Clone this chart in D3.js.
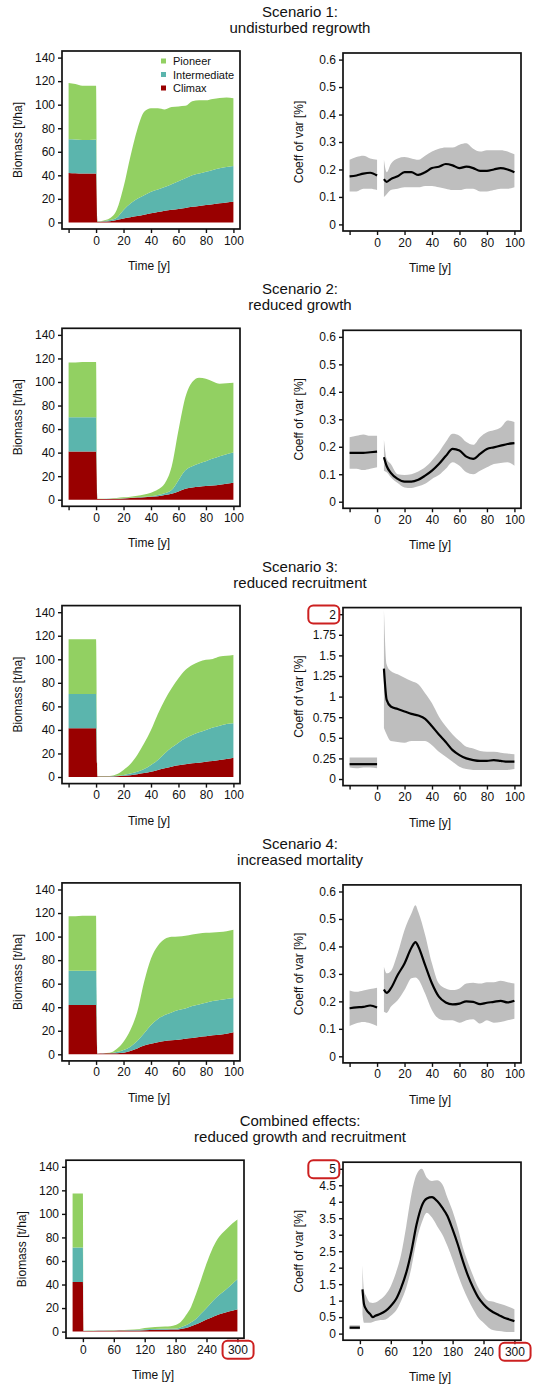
<!DOCTYPE html>
<html>
<head>
<meta charset="utf-8">
<script src="https://cdn.jsdelivr.net/npm/d3@7"></script>
<style>
  body { margin: 0; background: #fff; }
  text { font-family: "Liberation Sans", Arial, sans-serif; fill: #111; }
</style>
</head>
<body>
<div id="chart"></div>
<script>
// ---- data: biomass (t/ha) per successional group ----
const bioTime = [-20, -15, -10, -5, 0, 1, 5, 10, 15, 20, 25, 30, 35, 40, 45, 50, 55, 60, 65, 70, 75, 80, 85, 90, 95, 100];
const bioTime5 = [-20, -10, 0, 1, 20, 40, 60, 80, 100, 120, 140, 160, 180, 190, 200, 210, 220, 230, 240, 250, 260, 270, 280, 290, 300];

const climax1 = [42, 41.7, 41.5, 41.5, 41.5, 0.5, 0.7, 1, 2, 3.4, 4.4, 5.4, 6.5, 7.7, 8.8, 10, 10.7, 11.4, 12.3, 13.3, 14, 14.8, 15.5, 16.2, 17, 17.6];
const inter1 = [28.7, 28.8, 28.5, 28.5, 29, 0.3, 0.3, 1, 2, 7.1, 11.6, 14.6, 16.5, 18.3, 19.2, 20, 21.8, 23.6, 25.2, 26.7, 27.5, 28.2, 29, 29.8, 30, 30.4];
const pioneer1 = [47.8, 47, 46, 46, 45.5, 0.2, 0.5, 1.5, 6.5, 19.5, 40, 59, 71, 71, 69, 66, 65.5, 63.5, 61.5, 63, 62.2, 60.7, 60.3, 59.6, 59, 57.5];

const climax2 = [41, 41, 41, 41, 41, 0.5, 0.5, 0.6, 0.8, 1, 1.4, 1.8, 2.1, 2.5, 3, 4, 5, 7, 9.3, 10.4, 11, 11.6, 12.1, 12.7, 13.5, 14.4];
const inter2 = [29, 29, 29, 29, 29, 0.2, 0.2, 0.2, 0.2, 0.2, 0.2, 0.2, 0.4, 0.5, 1, 1.5, 3.2, 9.6, 15.7, 18.1, 19.8, 21.1, 22.9, 24.3, 25.2, 25.6];
const pioneer2 = [46.5, 46.5, 47, 47, 47, 0.1, 0.2, 0.3, 0.5, 0.8, 1, 1.4, 2, 3, 4.7, 8.3, 19.8, 42.4, 62, 71.5, 72.8, 70, 65.5, 61.5, 60.3, 59.3];

const climax3 = [41.4, 41.4, 41.4, 41.4, 41.4, 0.5, 0.5, 0.5, 0.7, 1, 1.5, 2.3, 3.3, 4.5, 6, 7.4, 8.8, 9.9, 10.8, 11.6, 12.2, 13, 13.6, 14.5, 15.3, 16.4];
const inter3 = [29.2, 29.2, 29.2, 29.2, 29.2, 0.1, 0.1, 0.2, 0.3, 0.7, 1.5, 2.2, 3.5, 5.7, 8.5, 12.6, 16.2, 19.3, 22.1, 24.1, 25.8, 27, 28.4, 29.1, 29.7, 29.2];
const pioneer3 = [46.4, 46.4, 46.4, 46.4, 46.4, 0.1, 0.2, 0.2, 1.3, 4.3, 8, 14.2, 21.8, 29.8, 39.1, 45.5, 50.4, 54.7, 58.1, 59.5, 60, 59.5, 58.3, 58.7, 58, 58.1];

const climax4 = [41.9, 41.9, 41.8, 41.8, 41.8, 0.5, 0.6, 0.8, 1, 1.4, 2.8, 5, 7.4, 9, 10.2, 11.3, 11.9, 12.4, 13.3, 13.8, 14.7, 15.3, 16.1, 16.7, 17.5, 18.7];
const inter4 = [29.1, 29.1, 29.2, 29.2, 29.2, 0.1, 0.2, 0.2, 1, 2.3, 3.7, 6.3, 10.4, 15.9, 19.8, 22.1, 23.7, 25.2, 25.7, 27.2, 27.7, 28.5, 29.1, 29.4, 29.5, 29.1];
const pioneer4 = [46.3, 46.3, 46.6, 46.6, 46.6, 0.1, 0.2, 0.4, 2.5, 7, 14.1, 24.9, 43.9, 56.5, 62.2, 64.5, 64.2, 62.5, 61.7, 60.8, 60.3, 59.4, 58.3, 57.7, 57.6, 58];

const climax5 = [42.2, 42.2, 42.2, 0.5, 0.6, 0.7, 0.8, 0.9, 1, 1.2, 1.5, 1.6, 1.7, 2.2, 3.1, 4.5, 6.2, 8.2, 10.2, 12, 13.9, 15.3, 16.7, 17.8, 18.7];
const inter5 = [29.2, 29.2, 29.2, 0.2, 0.2, 0.2, 0.2, 0.3, 0.3, 0.8, 0.7, 0.8, 0.9, 1.6, 2.3, 3.5, 4.8, 7.3, 9.8, 13, 15.6, 17.7, 19.9, 22.7, 25.8];
const pioneer5 = [45.9, 45.9, 45.9, 0.1, 0.1, 0.1, 0.1, 0.2, 0.4, 1.1, 1.8, 1.9, 3.1, 4.4, 8.5, 13, 21.3, 29.5, 37.8, 44, 48.1, 50.3, 51, 51.3, 50.7];

// ---- data: coefficient of variation (mean and band) ----
const cvTime = [-20, -15, -10, -5, 0, 5, 7, 10, 15, 20, 25, 30, 35, 40, 45, 50, 55, 60, 65, 70, 75, 80, 85, 90, 95, 100];
const cvTime4 = [-20, -15, -10, -5, 0, 5, 7, 10, 15, 20, 25, 28, 30, 35, 40, 45, 50, 55, 60, 65, 70, 75, 80, 85, 90, 95, 100];
const cvTime5 = [-20, -15, -10, -5, 0, 5, 8, 12, 20, 25, 30, 40, 50, 60, 70, 80, 90, 100, 110, 120, 130, 140, 150, 160, 170, 180, 190, 200, 210, 220, 230, 240, 250, 260, 270, 280, 290, 300];

const cvMean1 = [0.175, 0.178, 0.185, 0.188, 0.178, 0.165, 0.155, 0.165, 0.175, 0.19, 0.19, 0.18, 0.19, 0.205, 0.21, 0.22, 0.215, 0.205, 0.21, 0.205, 0.195, 0.195, 0.2, 0.205, 0.2, 0.19];
const cvHi1 = [0.235, 0.245, 0.25, 0.24, 0.235, 0.235, 0.19, 0.22, 0.24, 0.245, 0.24, 0.235, 0.25, 0.265, 0.275, 0.28, 0.28, 0.29, 0.295, 0.275, 0.265, 0.27, 0.27, 0.27, 0.265, 0.255];
const cvLo1 = [0.12, 0.12, 0.13, 0.13, 0.125, 0.1, 0.11, 0.125, 0.13, 0.135, 0.135, 0.135, 0.14, 0.14, 0.135, 0.13, 0.125, 0.125, 0.13, 0.13, 0.12, 0.12, 0.125, 0.13, 0.13, 0.135];

const cvMean2 = [0.178, 0.178, 0.178, 0.18, 0.182, 0.162, 0.13, 0.105, 0.083, 0.073, 0.073, 0.08, 0.095, 0.113, 0.137, 0.166, 0.192, 0.186, 0.164, 0.156, 0.174, 0.192, 0.198, 0.204, 0.21, 0.213];
const cvHi2 = [0.235, 0.24, 0.245, 0.24, 0.24, 0.226, 0.156, 0.137, 0.1, 0.097, 0.1, 0.11, 0.125, 0.15, 0.18, 0.217, 0.247, 0.24, 0.217, 0.207, 0.235, 0.253, 0.26, 0.27, 0.296, 0.29];
const cvLo2 = [0.12, 0.12, 0.115, 0.12, 0.125, 0.113, 0.107, 0.089, 0.068, 0.052, 0.05, 0.056, 0.065, 0.083, 0.097, 0.12, 0.144, 0.131, 0.107, 0.1, 0.113, 0.125, 0.137, 0.141, 0.144, 0.131];

const cvMean3 = [0.18, 0.18, 0.18, 0.18, 0.18, 1.34, 0.96, 0.88, 0.85, 0.82, 0.79, 0.77, 0.73, 0.64, 0.54, 0.45, 0.35, 0.29, 0.25, 0.23, 0.22, 0.22, 0.23, 0.22, 0.21, 0.21];
const cvHi3 = [0.26, 0.26, 0.26, 0.26, 0.26, 2.05, 1.39, 1.31, 1.27, 1.23, 1.19, 1.15, 1.04, 0.92, 0.76, 0.64, 0.54, 0.46, 0.39, 0.37, 0.34, 0.33, 0.33, 0.32, 0.31, 0.3];
const cvLo3 = [0.14, 0.13, 0.14, 0.14, 0.13, 0.62, 0.54, 0.46, 0.45, 0.44, 0.46, 0.46, 0.46, 0.41, 0.33, 0.27, 0.21, 0.15, 0.12, 0.11, 0.11, 0.11, 0.11, 0.11, 0.11, 0.12];

const cvMean4 = [0.175, 0.178, 0.18, 0.185, 0.178, 0.243, 0.231, 0.247, 0.296, 0.338, 0.395, 0.416, 0.4, 0.332, 0.265, 0.217, 0.196, 0.189, 0.192, 0.2, 0.198, 0.19, 0.195, 0.198, 0.202, 0.196, 0.202];
const cvHi4 = [0.24, 0.235, 0.24, 0.245, 0.25, 0.326, 0.302, 0.31, 0.375, 0.46, 0.52, 0.55, 0.526, 0.442, 0.338, 0.265, 0.247, 0.241, 0.247, 0.265, 0.268, 0.265, 0.27, 0.27, 0.275, 0.27, 0.265];
const cvLo4 = [0.11, 0.12, 0.125, 0.12, 0.11, 0.162, 0.158, 0.18, 0.204, 0.241, 0.284, 0.287, 0.28, 0.229, 0.168, 0.137, 0.131, 0.131, 0.122, 0.131, 0.135, 0.119, 0.131, 0.122, 0.125, 0.131, 0.137];

const cvMean5 = [0.18, 0.18, 0.18, 0.18, 0.18, 1.34, 0.89, 0.74, 0.59, 0.5, 0.54, 0.6, 0.69, 0.84, 1.04, 1.39, 1.85, 2.5, 3.31, 3.87, 4.1, 4.14, 4.02, 3.82, 3.57, 3.16, 2.71, 2.2, 1.75, 1.39, 1.09, 0.89, 0.74, 0.64, 0.56, 0.48, 0.43, 0.38];
const cvHi5 = [0.25, 0.25, 0.25, 0.25, 0.25, 2.07, 1.3, 1.15, 0.94, 0.93, 0.94, 1.04, 1.19, 1.44, 1.85, 2.4, 3.26, 4.22, 4.83, 5.0, 4.73, 4.63, 4.65, 4.53, 4.12, 3.72, 3.21, 2.61, 2.15, 1.75, 1.39, 1.14, 0.99, 0.97, 0.91, 0.87, 0.81, 0.74];
const cvLo5 = [0.13, 0.13, 0.13, 0.13, 0.13, 0.59, 0.33, 0.33, 0.33, 0.35, 0.38, 0.41, 0.43, 0.54, 0.69, 0.99, 1.39, 2.0, 2.81, 3.36, 3.67, 3.52, 3.26, 3.01, 2.66, 2.25, 1.8, 1.39, 1.04, 0.74, 0.48, 0.33, 0.18, 0.1, 0.08, 0.06, 0.05, 0.05];

// ---- tick labels ----
const bioTicks = [0, 20, 40, 60, 80, 100, 120, 140];
const timeTicks = [-20, 0, 20, 40, 60, 80, 100];
const timeTicks5 = [0, 60, 120, 180, 240, 300];
const cvTicksSmall = [0, 0.1, 0.2, 0.3, 0.4, 0.5, 0.6];
const cvTicks3 = [0, 0.25, 0.5, 0.75, 1, 1.25, 1.5, 1.75, 2];
const cvTicks5 = [0, 0.5, 1, 1.5, 2, 2.5, 3, 3.5, 4, 4.5, 5];

const groups = ["Pioneer", "Intermediate", "Climax"];
const groupColors = { Pioneer: "#92d062", Intermediate: "#5bb5ad", Climax: "#990000" };

const titles = [
  ["Scenario 1:", "undisturbed regrowth"],
  ["Scenario 2:", "reduced growth"],
  ["Scenario 3:", "reduced recruitment"],
  ["Scenario 4:", "increased mortality"],
  ["Combined effects:", "reduced growth and recruitment"]
];

const blocks = [
  { bio: [bioTime, climax1, inter1, pioneer1], cv: [cvTime, cvMean1, cvLo1, cvHi1], cvTicks: cvTicksSmall, xMax: 100, xTicks: timeTicks },
  { bio: [bioTime, climax2, inter2, pioneer2], cv: [cvTime, cvMean2, cvLo2, cvHi2], cvTicks: cvTicksSmall, xMax: 100, xTicks: timeTicks },
  { bio: [bioTime, climax3, inter3, pioneer3], cv: [cvTime, cvMean3, cvLo3, cvHi3], cvTicks: cvTicks3, xMax: 100, xTicks: timeTicks, markY: true },
  { bio: [bioTime, climax4, inter4, pioneer4], cv: [cvTime4, cvMean4, cvLo4, cvHi4], cvTicks: cvTicksSmall, xMax: 100, xTicks: timeTicks },
  { bio: [bioTime5, climax5, inter5, pioneer5], cv: [cvTime5, cvMean5, cvLo5, cvHi5], cvTicks: cvTicks5, xMax: 300, xTicks: timeTicks5, markY: true, markX: true }
];

const width = 533, height = 1384;
const blockH = 277.3;
const frameSize = 178;

const svg = d3.select("#chart").append("svg")
  .attr("width", width)
  .attr("height", height)
  .style("background", "#fff");

// R style padded scale (4% each side)
function rScale(lo, hi, r0, r1) {
  let pad = (hi - lo) * 0.04;
  return d3.scaleLinear().domain([lo - pad, hi + pad]).range([r0, r1]);
}

function fmt(v) {
  return String(v);
}

function drawAxes(g, x, y, xTicks, yTicks, left, top, xFormat) {
  let gx = g.append("g")
    .attr("transform", `translate(0,${top + frameSize})`)
    .call(d3.axisBottom(x).tickValues(xTicks).tickSize(4).tickPadding(3).tickFormat(xFormat));
  let gy = g.append("g")
    .attr("transform", `translate(${left},0)`)
    .call(d3.axisLeft(y).tickValues(yTicks).tickSize(4).tickPadding(3).tickFormat(fmt));
  [gx, gy].forEach(a => {
    a.select(".domain").remove();
    a.selectAll(".tick line").attr("stroke", "#111").attr("stroke-width", 1.4);
    a.selectAll(".tick text")
      .style("font-family", '"Liberation Sans", Arial, sans-serif')
      .style("font-size", "12px")
      .attr("fill", "#111");
  });
  // frame box
  g.append("rect")
    .attr("x", left).attr("y", top)
    .attr("width", frameSize).attr("height", frameSize)
    .attr("fill", "none").attr("stroke", "#111").attr("stroke-width", 1.7);
  return { gx, gy };
}

// red rounded box around a tick label
function markLabel(textSel, isX) {
  let node = textSel.node();
  let b = node.getBBox();
  let ctm = node.getCTM();
  let cx = ctm.e + b.x + b.width / 2;
  let cy = ctm.f + b.y + b.height / 2;
  let w = 31, h = 18;
  let x0 = isX ? cx - w / 2 : ctm.e + b.x + b.width + 3 - w;
  svg.append("rect")
    .attr("x", x0).attr("y", cy - h / 2)
    .attr("width", w).attr("height", h)
    .attr("rx", 5)
    .attr("fill", "none").attr("stroke", "#cc2020").attr("stroke-width", 2);
}

blocks.forEach((b, i) => {
  let off = i * blockH;
  let g = svg.append("g");

  // title
  g.append("text").attr("x", 300).attr("y", off + 17).attr("text-anchor", "middle")
    .style("font-size", "15px").text(titles[i][0]);
  g.append("text").attr("x", 300).attr("y", off + 33).attr("text-anchor", "middle")
    .style("font-size", "15px").text(titles[i][1]);

  // ---------- left: stacked biomass ----------
  let L = i === 4 ? 66 : 62;
  let T = off + 51;
  let x = rScale(-20, b.xMax, L, L + frameSize);
  let y = rScale(0, 140, T + frameSize, T);

  let [bt, cl, it, pi] = b.bio;
  let rows = bt.map((t, k) => ({ t: t, Climax: cl[k], Intermediate: it[k], Pioneer: pi[k] }));
  let stack = d3.stack().keys(["Climax", "Intermediate", "Pioneer"])(rows);
  let area = d3.area()
    .x(d => x(d.data.t))
    .y0(d => y(d[0]))
    .y1(d => y(d[1]))
    .curve(d3.curveMonotoneX);

  g.selectAll(".layer" + i)
    .data(stack)
    .enter()
    .append("path")
    .attr("class", "layer" + i)
    .attr("d", area)
    .attr("fill", d => groupColors[d.key]);

  let leftAxes = drawAxes(g, x, y, b.xTicks, bioTicks, L, T, v => v < 0 ? "" : fmt(v));

  g.append("text")
    .attr("transform", `translate(${L - 40},${T + frameSize / 2}) rotate(-90)`)
    .attr("text-anchor", "middle").style("font-size", "12px")
    .text("Biomass [t/ha]");
  g.append("text")
    .attr("x", L + frameSize / 2 - 2).attr("y", T + frameSize + 41)
    .attr("text-anchor", "middle").style("font-size", "12px")
    .text("Time [y]");

  // legend (first panel only)
  if (i === 0) {
    groups.forEach((name, k) => {
      let ly = T + 10 + k * 13.5;
      g.append("rect").attr("x", L + 99).attr("y", ly - 2.5).attr("width", 5).attr("height", 5)
        .attr("fill", groupColors[name]);
      g.append("text").attr("x", L + 111).attr("y", ly + 4)
        .style("font-size", "11px").text(name);
    });
  }

  // ---------- right: coefficient of variation ----------
  let R = 343;
  let T2 = off + 53;
  let cvMax = b.cvTicks[b.cvTicks.length - 1];
  let x2 = rScale(-20, b.xMax, R, R + frameSize);
  let y2 = rScale(0, cvMax, T2 + frameSize, T2);

  let [ct, cm, clo, chi] = b.cv;
  let cvRows = ct.map((t, k) => ({ t: t, mean: cm[k], lo: clo[k], hi: chi[k] }));
  let segments = [cvRows.filter(d => d.t <= 0), cvRows.filter(d => d.t > 0)];

  let band = d3.area()
    .x(d => x2(d.t))
    .y0(d => y2(d.lo))
    .y1(d => y2(d.hi))
    .curve(d3.curveMonotoneX);
  let line = d3.line()
    .x(d => x2(d.t))
    .y(d => y2(d.mean))
    .curve(d3.curveMonotoneX);

  g.selectAll(".band" + i)
    .data(segments)
    .enter()
    .append("path")
    .attr("class", "band" + i)
    .attr("d", band)
    .attr("fill", "#bebebe");

  g.selectAll(".mean" + i)
    .data(segments)
    .enter()
    .append("path")
    .attr("class", "mean" + i)
    .attr("d", line)
    .attr("fill", "none")
    .attr("stroke", "#000")
    .attr("stroke-width", 2.2);

  let rightAxes = drawAxes(g, x2, y2, b.xTicks, b.cvTicks, R, T2, v => v < 0 ? "" : fmt(v));

  g.append("text")
    .attr("transform", `translate(${R - 40},${T2 + frameSize / 2}) rotate(-90)`)
    .attr("text-anchor", "middle").style("font-size", "12px")
    .text("Coeff of var [%]");
  g.append("text")
    .attr("x", R + frameSize / 2 - 2).attr("y", T2 + frameSize + 41)
    .attr("text-anchor", "middle").style("font-size", "12px")
    .text("Time [y]");

  // highlighted labels
  if (b.markY) {
    let top = rightAxes.gy.selectAll(".tick text").filter(v => v === cvMax);
    markLabel(top, false);
  }
  if (b.markX) {
    markLabel(leftAxes.gx.selectAll(".tick text").filter(v => v === b.xMax), true);
    markLabel(rightAxes.gx.selectAll(".tick text").filter(v => v === b.xMax), true);
  }
});
</script>
</body>
</html>
